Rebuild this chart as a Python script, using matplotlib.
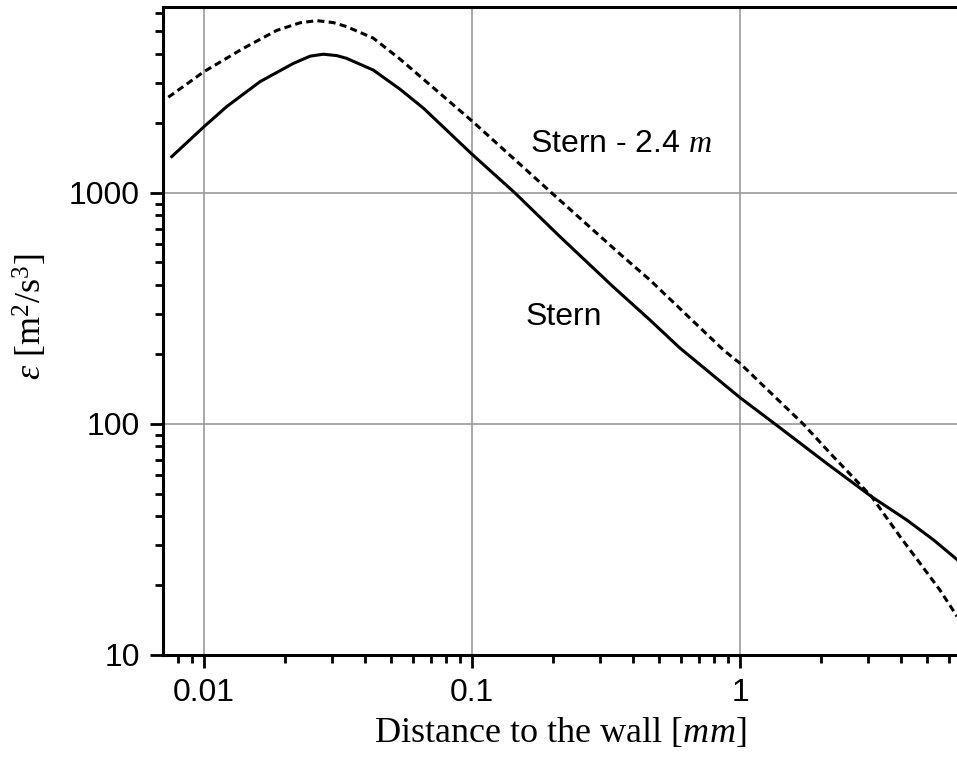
import matplotlib
matplotlib.use("Agg")
import matplotlib.pyplot as plt
from matplotlib.ticker import LogLocator, FixedLocator, NullFormatter, FixedFormatter

plt.rcParams['mathtext.fontset'] = 'custom'
plt.rcParams['mathtext.rm'] = 'Liberation Serif'
plt.rcParams['mathtext.it'] = 'Liberation Serif:italic'

# Data
stern_x = [0.00758, 0.01, 0.01216, 0.01619, 0.02155, 0.0249, 0.02786, 0.0313, 0.034,
           0.0428, 0.0539, 0.0658, 0.1006, 0.1446, 0.2128, 0.3366, 0.461, 0.597,
           1.0, 1.35, 2.106, 3.1, 4.19, 5.27, 6.45]
stern_y = [1436, 1936, 2366, 3033, 3637, 3910, 3985, 3930, 3826,
           3404, 2810, 2330, 1461, 1000, 647, 392, 282, 213,
           130, 100, 67.5, 48.4, 38.4, 31.5, 25.9]

stern24_x = [0.00736, 0.01, 0.01402, 0.01866, 0.0228, 0.02634, 0.0304, 0.034, 0.0428,
             0.0539, 0.1006, 0.1983, 0.3515, 0.461, 0.867, 1.0, 1.72, 2.23, 3.1,
             3.95, 4.7, 5.57, 6.45]
stern24_y = [2596, 3350, 4227, 5050, 5450, 5570, 5460, 5250, 4680,
             3794, 2036, 1000, 552, 420, 209, 183, 100, 72.2, 48.4,
             32.6, 24.9, 19.1, 14.7]

xticks = [0.01, 0.1, 1]
xtick_labels = ["0.01", "0.1", "1"]
yticks = [10, 100, 1000]
ytick_labels = ["10", "100", "1000"]

fig = plt.figure(figsize=(9.57, 7.72), dpi=100)
ax = fig.add_axes([163/957, 1-655/772, 1-163/957, (655-7)/772])

ax.plot(stern_x, stern_y, color='black', lw=2.2, solid_joinstyle='round')
ax.plot(stern24_x, stern24_y, color='black', lw=2.2, dashes=(2.3, 1.4))

ax.set_xscale('log')
ax.set_yscale('log')
ax.set_xlim(0.00703, 6.45)
ax.set_ylim(10, 6380)

ax.xaxis.set_major_locator(FixedLocator(xticks))
ax.xaxis.set_major_formatter(FixedFormatter(xtick_labels))
ax.yaxis.set_major_locator(FixedLocator(yticks))
ax.yaxis.set_major_formatter(FixedFormatter(ytick_labels))
ax.xaxis.set_minor_locator(LogLocator(base=10, subs=range(2, 10), numticks=20))
ax.yaxis.set_minor_locator(LogLocator(base=10, subs=range(2, 10), numticks=20))
ax.xaxis.set_minor_formatter(NullFormatter())
ax.yaxis.set_minor_formatter(NullFormatter())

ax.grid(True, which='major', color='#999999', lw=1.2)
ax.set_axisbelow(True)

for s in ['left', 'bottom', 'top']:
    ax.spines[s].set_linewidth(2.2)
ax.spines['right'].set_visible(False)

ax.tick_params(which='major', direction='out', length=9.5, width=2, labelsize=23,
               top=False, right=False, pad=7)
ax.tick_params(which='minor', direction='out', length=5.5, width=2, top=False, right=False)
for lab in ax.get_xticklabels() + ax.get_yticklabels():
    lab.set_fontfamily('Liberation Sans')

ax.set_xlabel(r'Distance to the wall [$mm$]', fontfamily='Liberation Serif', fontsize=26, labelpad=6)
ax.set_ylabel(r'$\varepsilon$ [m$^2$/s$^3$]', fontfamily='Liberation Serif', fontsize=26)
ax.yaxis.set_label_coords(-0.142, 0.5216)

ax.text(0.1646, 1503, r'Stern - 2.4 $m$', fontfamily='Liberation Sans', fontsize=23,
        va='baseline', ha='left')
ax.text(0.1577, 268, 'Stern', fontfamily='Liberation Sans', fontsize=23,
        va='baseline', ha='left')

fig.savefig('out.png', dpi=100)
